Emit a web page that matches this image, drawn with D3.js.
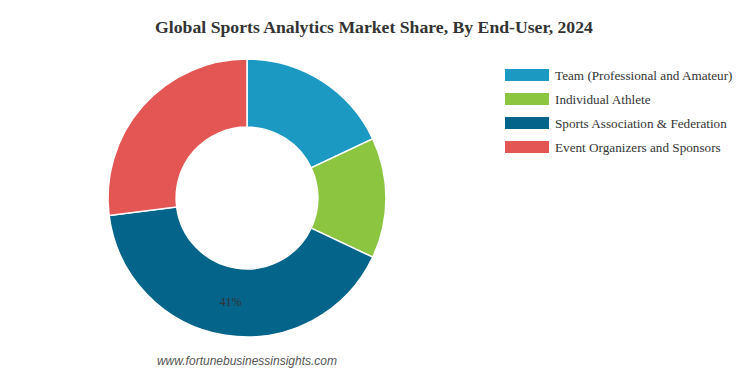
<!DOCTYPE html>
<html>
<head>
<meta charset="utf-8">
<script src="https://cdn.jsdelivr.net/npm/d3@7"></script>
<style>
    body { margin: 0; background: #fff; }
    svg { display: block; }
</style>
</head>
<body>
<svg id="chart" width="748" height="374"></svg>
<script>
const categories = ["Team (Professional and Amateur)", "Individual Athlete", "Sports Association & Federation", "Event Organizers and Sponsors"];
const shares = [18, 14, 41, 27];
const colors = ["#1c99c2", "#8cc540", "#05648a", "#e35654"];
const shownLabels = [false, false, true, false];

const data = categories.map((name, i) => ({ name, value: shares[i], color: colors[i], show: shownLabels[i] }));

const svg = d3.select("#chart");

svg.append("text")
    .attr("x", 374)
    .attr("y", 33)
    .attr("text-anchor", "middle")
    .style("font-family", "'Liberation Serif', 'Times New Roman', serif")
    .style("font-weight", "bold")
    .style("font-size", "17.7px")
    .style("fill", "#333")
    .text("Global Sports Analytics Market Share, By End-User, 2024");

const radius = 139;
const center = { x: 247, y: 198 };

const arcGenerator = d3.arc()
    .innerRadius(radius * 0.51)
    .outerRadius(radius);

const pieGenerator = d3.pie()
    .sort(null)
    .value(d => d.value);

const pieGroup = svg.append("g")
    .attr("transform", "translate(" + center.x + "," + center.y + ")");

const arcs = pieGroup.selectAll(".arc")
    .data(pieGenerator(data))
    .enter()
    .append("g")
    .attr("class", "arc");

arcs.append("path")
    .attr("d", arcGenerator)
    .style("fill", d => d.data.color)
    .style("stroke", "#fff")
    .style("stroke-width", "1.5px");

arcs.filter(d => d.data.show)
    .append("text")
    .attr("transform", d => "translate(" + arcGenerator.centroid(d) + ")")
    .attr("text-anchor", "middle")
    .attr("dy", "0.35em")
    .style("font-family", "'Liberation Serif', 'Times New Roman', serif")
    .style("font-size", "12px")
    .style("fill", "#333")
    .text(d => d.data.value + "%");

const legend = svg.append("g")
    .attr("transform", "translate(505, 69)");

const items = legend.selectAll(".item")
    .data(data)
    .enter()
    .append("g")
    .attr("class", "item")
    .attr("transform", (d, i) => "translate(0," + (i * 24) + ")");

items.append("rect")
    .attr("width", 44)
    .attr("height", 12)
    .style("fill", d => d.color);

items.append("text")
    .attr("x", 50)
    .attr("y", 6)
    .attr("dy", "0.35em")
    .style("font-family", "'Liberation Serif', 'Times New Roman', serif")
    .style("font-size", "13.2px")
    .style("fill", "#333")
    .text(d => d.name);

svg.append("text")
    .attr("x", 247)
    .attr("y", 365)
    .attr("text-anchor", "middle")
    .style("font-family", "'Liberation Sans', Arial, sans-serif")
    .style("font-style", "italic")
    .style("font-size", "12px")
    .style("fill", "#555")
    .text("www.fortunebusinessinsights.com");
</script>
</body>
</html>
